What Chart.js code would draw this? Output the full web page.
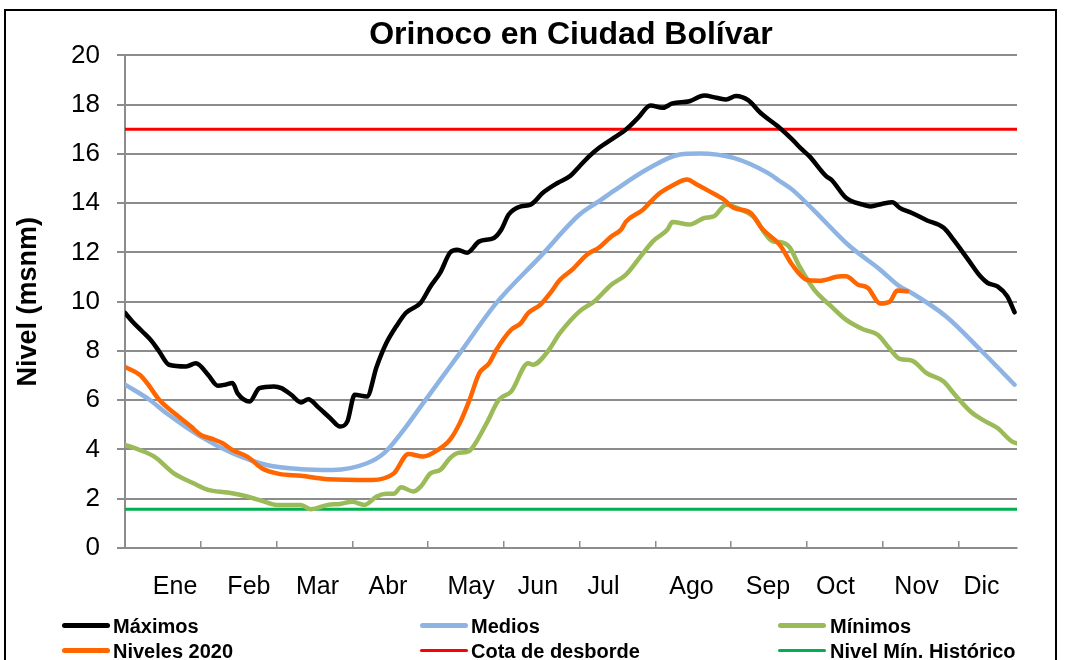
<!DOCTYPE html>
<html><head><meta charset="utf-8">
<script src="https://cdn.jsdelivr.net/npm/chart.js@4.4.1/dist/chart.umd.min.js"></script>
<style>
html,body{margin:0;padding:0;background:#fff;}
#wrap{position:relative;width:1065px;height:660px;overflow:hidden;font-family:"Liberation Sans",Arial,sans-serif;}
#frame{position:absolute;left:4px;top:9px;width:1053px;height:700px;border:2px solid #000;box-sizing:border-box;}
canvas{position:absolute;left:0;top:0;}
#legend{position:absolute;left:0;top:0;width:1065px;height:660px;pointer-events:none;}
.li{position:absolute;font-weight:bold;font-size:20px;line-height:22px;color:#000;white-space:nowrap;}
.sw{position:absolute;border-radius:3px;}
</style></head>
<body>
<div id="wrap">
<div id="frame"></div>
<canvas id="c" width="1065" height="660"></canvas>
<div id="legend"></div>
</div>
<script>
// ---- data ----
const chartTitle = 'Orinoco en Ciudad Bolívar';
const yTitle = 'Nivel (msnm)';
const months = ['Ene','Feb','Mar','Abr','May','Jun','Jul','Ago','Sep','Oct','Nov','Dic'];
const monthLabelDays = [20.5,50.7,78.8,107.6,141.6,169,195.8,231.8,263.1,290.7,323.9,350.5];
const tickDays = [0,31,62,93,124,155,186,217,248,279,310,341];
const yTicks = [0,2,4,6,8,10,12,14,16,18,20];

const maxDays = [0,3,7,11,14,18,25,29,34,38,41,44,46,51,55,61,64,68,72,75,79,84,88,91,94,99,103,107,111,115,121,125,129,133,136,140,145,151,154,157,162,166,171,177,182,186,190,194,200,205,210,215,220,224,231,237,242,246,250,255,260,267,273,277,280,287,289,295,302,305,310,314,317,322,328,335,339,345,350,353,357,361,364];
const maxVals = [9.55,9.2,8.8,8.39,7.98,7.44,7.37,7.5,7.03,6.59,6.63,6.7,6.29,5.95,6.49,6.56,6.49,6.22,5.91,6.04,5.72,5.27,4.93,5.14,6.22,6.15,7.37,8.33,9.0,9.55,9.96,10.62,11.18,11.99,12.11,11.99,12.45,12.59,12.93,13.54,13.87,13.94,14.42,14.82,15.09,15.5,15.91,16.25,16.65,16.99,17.47,17.97,17.87,18.05,18.14,18.37,18.28,18.21,18.35,18.18,17.67,17.13,16.59,16.18,15.91,15.09,14.96,14.22,13.94,13.87,13.98,14.04,13.81,13.6,13.31,13.0,12.52,11.71,11.03,10.76,10.62,10.22,9.57];

const medDays = [0,10,17,31,44,58,72,85,99,106,113,122,126,133,137,152,170,186,194,200,214,227,235,249,263,268,273,282,296,309,317,322,336,350,364];
const medVals = [6.63,6.02,5.47,4.52,3.85,3.37,3.2,3.17,3.44,3.85,4.66,5.88,6.42,7.37,7.91,9.95,11.84,13.54,14.08,14.5,15.4,15.98,16.02,15.84,15.23,14.89,14.55,13.7,12.3,11.3,10.62,10.35,9.4,8.05,6.63];

const minDays = [0,6,12,20,28,34,42,50,57,62,72,76,83,88,93,98,103,107,110,113,118,121,125,129,133,136,140,142,148,153,158,165,167,173,178,186,192,199,205,211,216,222,224,231,237,241,246,252,257,265,268,272,276,282,289,295,302,308,313,317,322,328,335,339,346,351,357,363,365];
const minVals = [4.19,3.98,3.71,3.03,2.63,2.36,2.25,2.09,1.88,1.75,1.75,1.57,1.75,1.79,1.88,1.75,2.09,2.2,2.2,2.47,2.29,2.49,3.03,3.17,3.65,3.85,3.9,4.05,5.07,6.02,6.35,7.5,7.44,7.98,8.73,9.61,10.01,10.69,11.1,11.84,12.45,12.93,13.24,13.13,13.4,13.47,13.94,13.74,13.47,12.45,12.42,12.2,11.43,10.49,9.81,9.27,8.88,8.66,8.08,7.68,7.61,7.1,6.76,6.29,5.54,5.2,4.87,4.32,4.25];

const n2020Days = [0,6,9,14,21,27,31,36,40,44,50,56,63,72,83,101,110,116,122,128,133,137,141,145,149,152,158,162,165,170,174,178,183,189,194,199,203,205,212,215,219,224,230,234,239,245,249,256,261,268,273,279,284,293,295,300,304,309,313,316,320];
const n2020Vals = [7.35,7.03,6.7,6.02,5.41,4.93,4.59,4.42,4.25,3.98,3.71,3.24,3.01,2.93,2.79,2.76,3.03,3.82,3.71,3.98,4.4,5.07,6.02,7.1,7.5,8.05,8.86,9.13,9.54,9.88,10.35,10.89,11.3,11.91,12.2,12.65,12.93,13.25,13.74,14.05,14.42,14.72,14.96,14.76,14.49,14.15,13.81,13.6,12.93,12.3,11.5,10.89,10.85,11.03,11.03,10.69,10.56,9.93,10.01,10.45,10.42];

const cotaDesborde = 17;
const nivelMinHistorico = 1.57;
const dayRange = [0,365];

// ---- chart ----
const F = '"Liberation Sans", Arial, sans-serif';
const pts = (d,v) => d.map((x,i)=>({x:x,y:v[i]}));
const flat = (v) => dayRange.map(x=>({x:x,y:v}));

const datasets = [
  {label:'Máximos', data:pts(maxDays,maxVals), borderColor:'#000000', borderWidth:4.5, leg:1},
  {label:'Niveles 2020', data:pts(n2020Days,n2020Vals), borderColor:'#FF6600', borderWidth:4.5, leg:4},
  {label:'Medios', data:pts(medDays,medVals), borderColor:'#8EB4E3', borderWidth:4.5, leg:2},
  {label:'Mínimos', data:pts(minDays,minVals), borderColor:'#9BBB59', borderWidth:4.5, leg:3},
  {label:'Cota de desborde', data:flat(cotaDesborde), borderColor:'#FF0000', borderWidth:3, leg:5},
  {label:'Nivel Mín. Histórico', data:flat(nivelMinHistorico), borderColor:'#00B050', borderWidth:3, leg:6}
];
datasets.forEach(d=>{d.pointRadius=0; d.fill=false; d.cubicInterpolationMode='monotone'; d.borderCapStyle='round'; d.borderJoinStyle='round';});

const chart = new Chart(document.getElementById('c'), {
  type:'line',
  data:{datasets:datasets},
  options:{
    responsive:false, animation:false, devicePixelRatio:1,
    layout:{padding:{left:0,right:48,top:0,bottom:0}},
    plugins:{
      legend:{display:false}, tooltip:{enabled:false},
      title:{display:true,fullSize:false,text:chartTitle,color:'#000',font:{family:F,size:32,weight:'bold'},padding:{top:16,bottom:1}}
    },
    scales:{
      x:{type:'linear',min:dayRange[0],max:dayRange[1],
        afterBuildTicks:(s)=>{
          const t = tickDays.map(v=>({value:v,mark:true})).concat(monthLabelDays.map(v=>({value:v,mark:false})));
          t.sort((a,b)=>a.value-b.value);
          s.ticks = t;
        },
        ticks:{autoSkip:false,maxRotation:0,minRotation:0,padding:31,color:'#000',font:{family:F,size:25},
          callback:(v,i,t)=> (t[i] && t[i].mark) ? '' : months[monthLabelDays.indexOf(v)]},
        grid:{drawOnChartArea:false,tickLength:-7,lineWidth:1.5,
          color:(c)=> (c.tick && c.tick.mark) ? '#8c8c8c' : 'rgba(0,0,0,0)'},
        border:{color:'#8c8c8c',width:2},
        afterFit:(s)=>{s.height=112;}
      },
      y:{type:'linear',min:0,max:20,
        afterBuildTicks:(s)=>{s.ticks = yTicks.map(v=>({value:v}));},
        ticks:{padding:17,color:'#000',font:{family:F,size:26}},
        grid:{color:'#8c8c8c',lineWidth:2,tickLength:8},
        border:{color:'#8c8c8c',width:2},
        title:{display:true,text:yTitle,color:'#000',font:{family:F,size:27,weight:'bold'},padding:{top:12,bottom:0}},
        afterFit:(s)=>{s.width=125;}
      }
    }
  }
});

// ---- HTML legend (3 columns x 2 rows) ----
const leg = document.getElementById('legend');
const colSw = [62,420,778], colTx = [113,471,830], rowC = [625,650];
datasets.slice().sort((a,b)=>a.leg-b.leg).forEach((d,k)=>{
  const r = Math.floor(k/3), c = k%3;
  const sw = document.createElement('div');
  sw.className='sw';
  const h = d.borderWidth>=4 ? 5 : 3;
  sw.style.cssText = 'left:'+colSw[c]+'px;width:48px;height:'+h+'px;top:'+(rowC[r]-h/2)+'px;background:'+d.borderColor+';';
  leg.appendChild(sw);
  const tx = document.createElement('div');
  tx.className='li';
  tx.textContent = d.label;
  tx.style.left = colTx[c]+'px';
  tx.style.top = (rowC[r]-10.5)+'px';
  leg.appendChild(tx);
});
</script>
</body></html>
